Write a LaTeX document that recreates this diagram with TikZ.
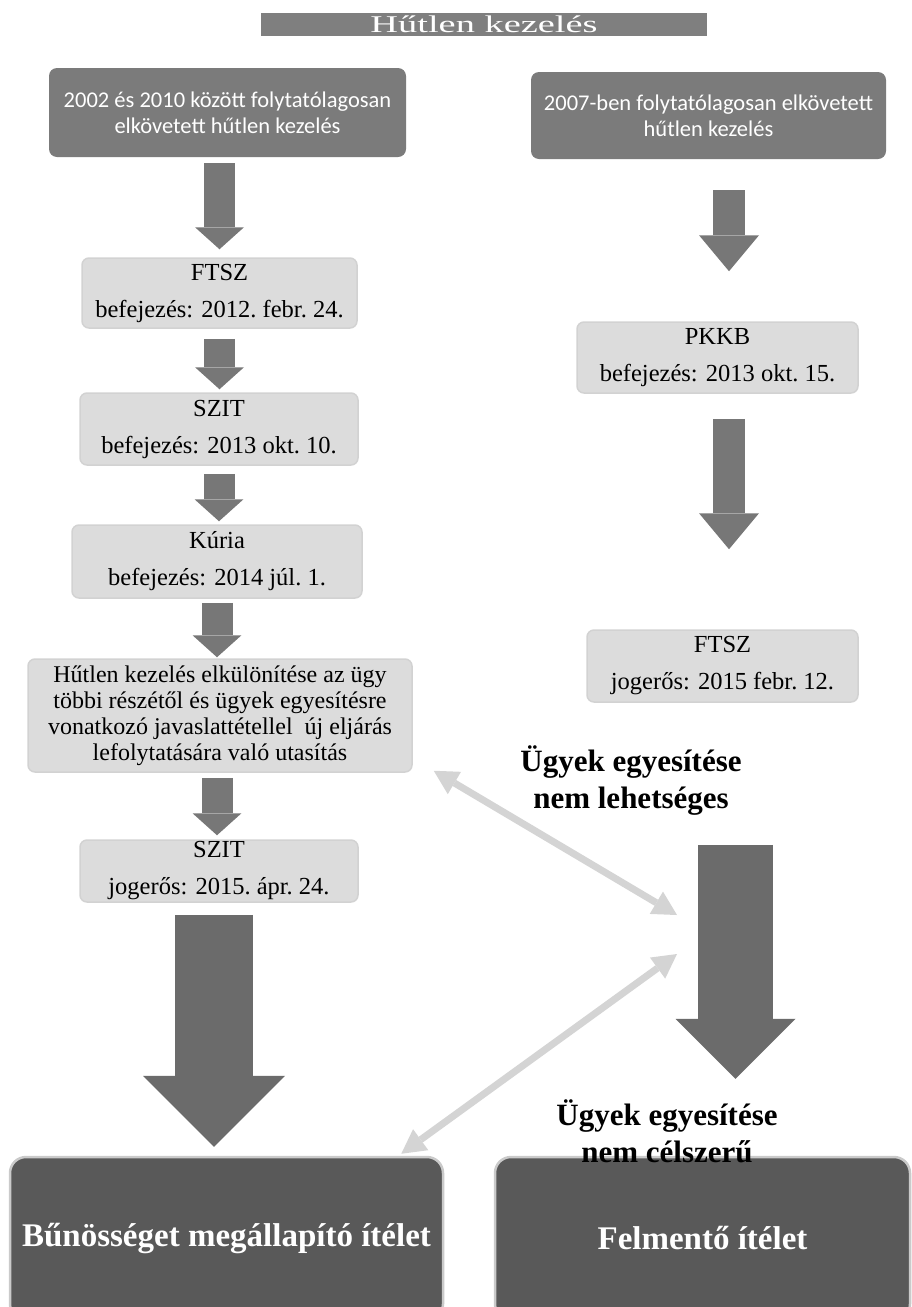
\documentclass[tikz,border=0pt]{standalone}
\usepackage{graphicx}
\usepackage{fontspec}
\setmainfont{Liberation Serif}
\newfontfamily\calibri{Carlito}
\usetikzlibrary{arrows.meta}

\definecolor{bardark}{HTML}{7F7F7F}
\definecolor{boxdark}{HTML}{7B7B7B}
\definecolor{boxlight}{HTML}{DCDCDC}
\definecolor{boxedge}{HTML}{D2D2D2}
\definecolor{boxend}{HTML}{595959}
\definecolor{endedge}{HTML}{CACACA}
\definecolor{arrowgray}{HTML}{777777}
\definecolor{bigarrowgray}{HTML}{6B6B6B}
\definecolor{joingray}{HTML}{D4D4D4}

\tikzset{
  topbox/.style={fill=boxdark, rounded corners=8pt, text=white, align=center, inner sep=0pt,
    font=\calibri\fontsize{22.5}{26}\selectfont},
  datebox/.style={fill=boxlight, draw=boxedge, line width=1.5pt, rounded corners=7pt, align=center,
    inner sep=0pt, font=\fontsize{24.5}{37}\selectfont},
  endbox/.style={fill=boxend, draw=endedge, line width=2.5pt, rounded corners=16pt, text=white,
    inner sep=0pt, font=\bfseries\fontsize{33}{38}\selectfont},
  flowarrow/.style={draw=arrowgray, line width=31pt, -{Triangle[length=22pt,width=49pt,line width=0pt]}},
  sidearrow/.style={draw=arrowgray, line width=32pt, -{Triangle[length=36pt,width=60pt,line width=0pt]}},
  bigarrow/.style={draw=bigarrowgray, -{Triangle[length=#1,width=2*#1,line width=0pt]}},
  joinarrow/.style={draw=joingray, line width=7pt,
    {Triangle[length=24pt,width=26pt,line width=0pt]}-{Triangle[length=24pt,width=26pt,line width=0pt]}},
  note/.style={align=center, font=\bfseries\fontsize{31}{37}\selectfont}
}

\begin{document}
\begin{tikzpicture}[x=1pt, y=-1pt]
  \useasboundingbox (0,0) rectangle (912,1307);
  \clip (0,0) rectangle (912,1307);

  % Title:
  \node[fill=bardark, minimum width=446pt, minimum height=23pt, inner sep=0pt, text=white,
    font=\fontsize{24}{24}\selectfont] (title) at (484,24.5) {\scalebox{1.6}[1]{Hűtlen kezelés}};

  % Starting cases:
  \node[topbox, minimum width=357pt, minimum height=89pt] (start1) at (227.5,112.5)
    {2002 és 2010 között folytatólagosan\\elkövetett hűtlen kezelés};
  \node[topbox, minimum width=355pt, minimum height=87pt] (start2) at (708.5,115.5)
    {2007-ben folytatólagosan elkövetett\\hűtlen kezelés};

  % Left column:
  \node[datebox, minimum width=275pt, minimum height=70pt] (ftszL) at (219.5,293) {FTSZ\\befejezés: 2012.\ febr.\ 24.};
  \node[datebox, minimum width=278pt, minimum height=72pt] (szitL) at (219,429) {SZIT\\befejezés: 2013 okt.\ 10.};
  \node[datebox, minimum width=290pt, minimum height=73pt] (kuria) at (217,561.5) {Kúria\\befejezés: 2014 júl.\ 1.};
  \node[datebox, minimum width=384pt, minimum height=113pt, font=\fontsize{24}{26}\selectfont] (elkul) at (220,715.5)
    {Hűtlen kezelés elkülönítése az ügy\\többi részétől és ügyek egyesítésre\\vonatkozó javaslattétellel\ \ új eljárás\\lefolytatására való utasítás};
  \node[datebox, minimum width=278pt, minimum height=62pt] (szitJ) at (219,871) {SZIT\\jogerős: 2015.\ ápr.\ 24.};

  % Right column:
  \node[datebox, minimum width=281pt, minimum height=71pt] (pkkb) at (717.5,357.5) {PKKB\\befejezés: 2013 okt.\ 15.};
  \node[datebox, minimum width=271pt, minimum height=72pt] (ftszR) at (722.5,666) {FTSZ\\jogerős: 2015 febr.\ 12.};

  % Outcomes:
  \node[endbox, minimum width=433pt, minimum height=163pt] (guilty) at (226.5,1238.5) {Bűnösséget megállapító ítélet};
  \node[endbox, minimum width=415pt, minimum height=163pt] (acquit) at (702.5,1238.5) {Felmentő ítélet};

  \node[note] (nolink) at (631,781) {Ügyek egyesítése\\nem lehetséges};
  \node[note] (nomerge) at (667,1131) {Ügyek egyesítése\\nem célszerű};

  % Arrows, left:
  \draw[flowarrow, shorten <=6pt, shorten >=8pt] (start1.south -| ftszL.north) -- (ftszL.north);
  \draw[flowarrow, shorten <=10pt, shorten >=3pt] (ftszL.south) -- (ftszL.south |- szitL.north);
  \draw[flowarrow, shorten <=8pt, shorten >=3pt] (szitL.south) -- (szitL.south |- kuria.north);
  \draw[flowarrow, shorten <=4pt, shorten >=1pt] (kuria.south) -- (kuria.south |- elkul.north);
  \draw[flowarrow, shorten <=5pt, shorten >=4pt] (elkul.south -| kuria.south) -- (kuria.south |- szitJ.north);
  \draw[bigarrow=71pt, line width=78pt, shorten <=12pt, shorten >=9pt]
    ([xshift=-5pt]szitJ.south) -- ([xshift=-5pt]szitJ.south |- guilty.north);

  % Arrows, right:
  \draw[sidearrow, shorten <=31pt, shorten >=50pt] ([xshift=20.5pt]start2.south) -- ([xshift=20.5pt]start2.south |- pkkb.north);
  \draw[sidearrow, shorten <=25pt, shorten >=80pt] ([xshift=11.5pt]pkkb.south) -- ([xshift=11.5pt]pkkb.south |- ftszR.north);
  \draw[bigarrow=60pt, line width=75pt, shorten <=142pt, shorten >=77pt]
    ([xshift=13pt]ftszR.south) -- ([xshift=13pt]ftszR.south |- acquit.north);

  % Links between the two cases:
  \coordinate (mergeA) at (677,915);
  \coordinate (mergeB) at (677,954);
  \draw[joinarrow] ([xshift=21pt,yshift=2pt]elkul.south east) -- (mergeA);
  \draw[joinarrow] (mergeB) -- ([xshift=-43pt,yshift=2pt]guilty.north east);
\end{tikzpicture}
\end{document}
